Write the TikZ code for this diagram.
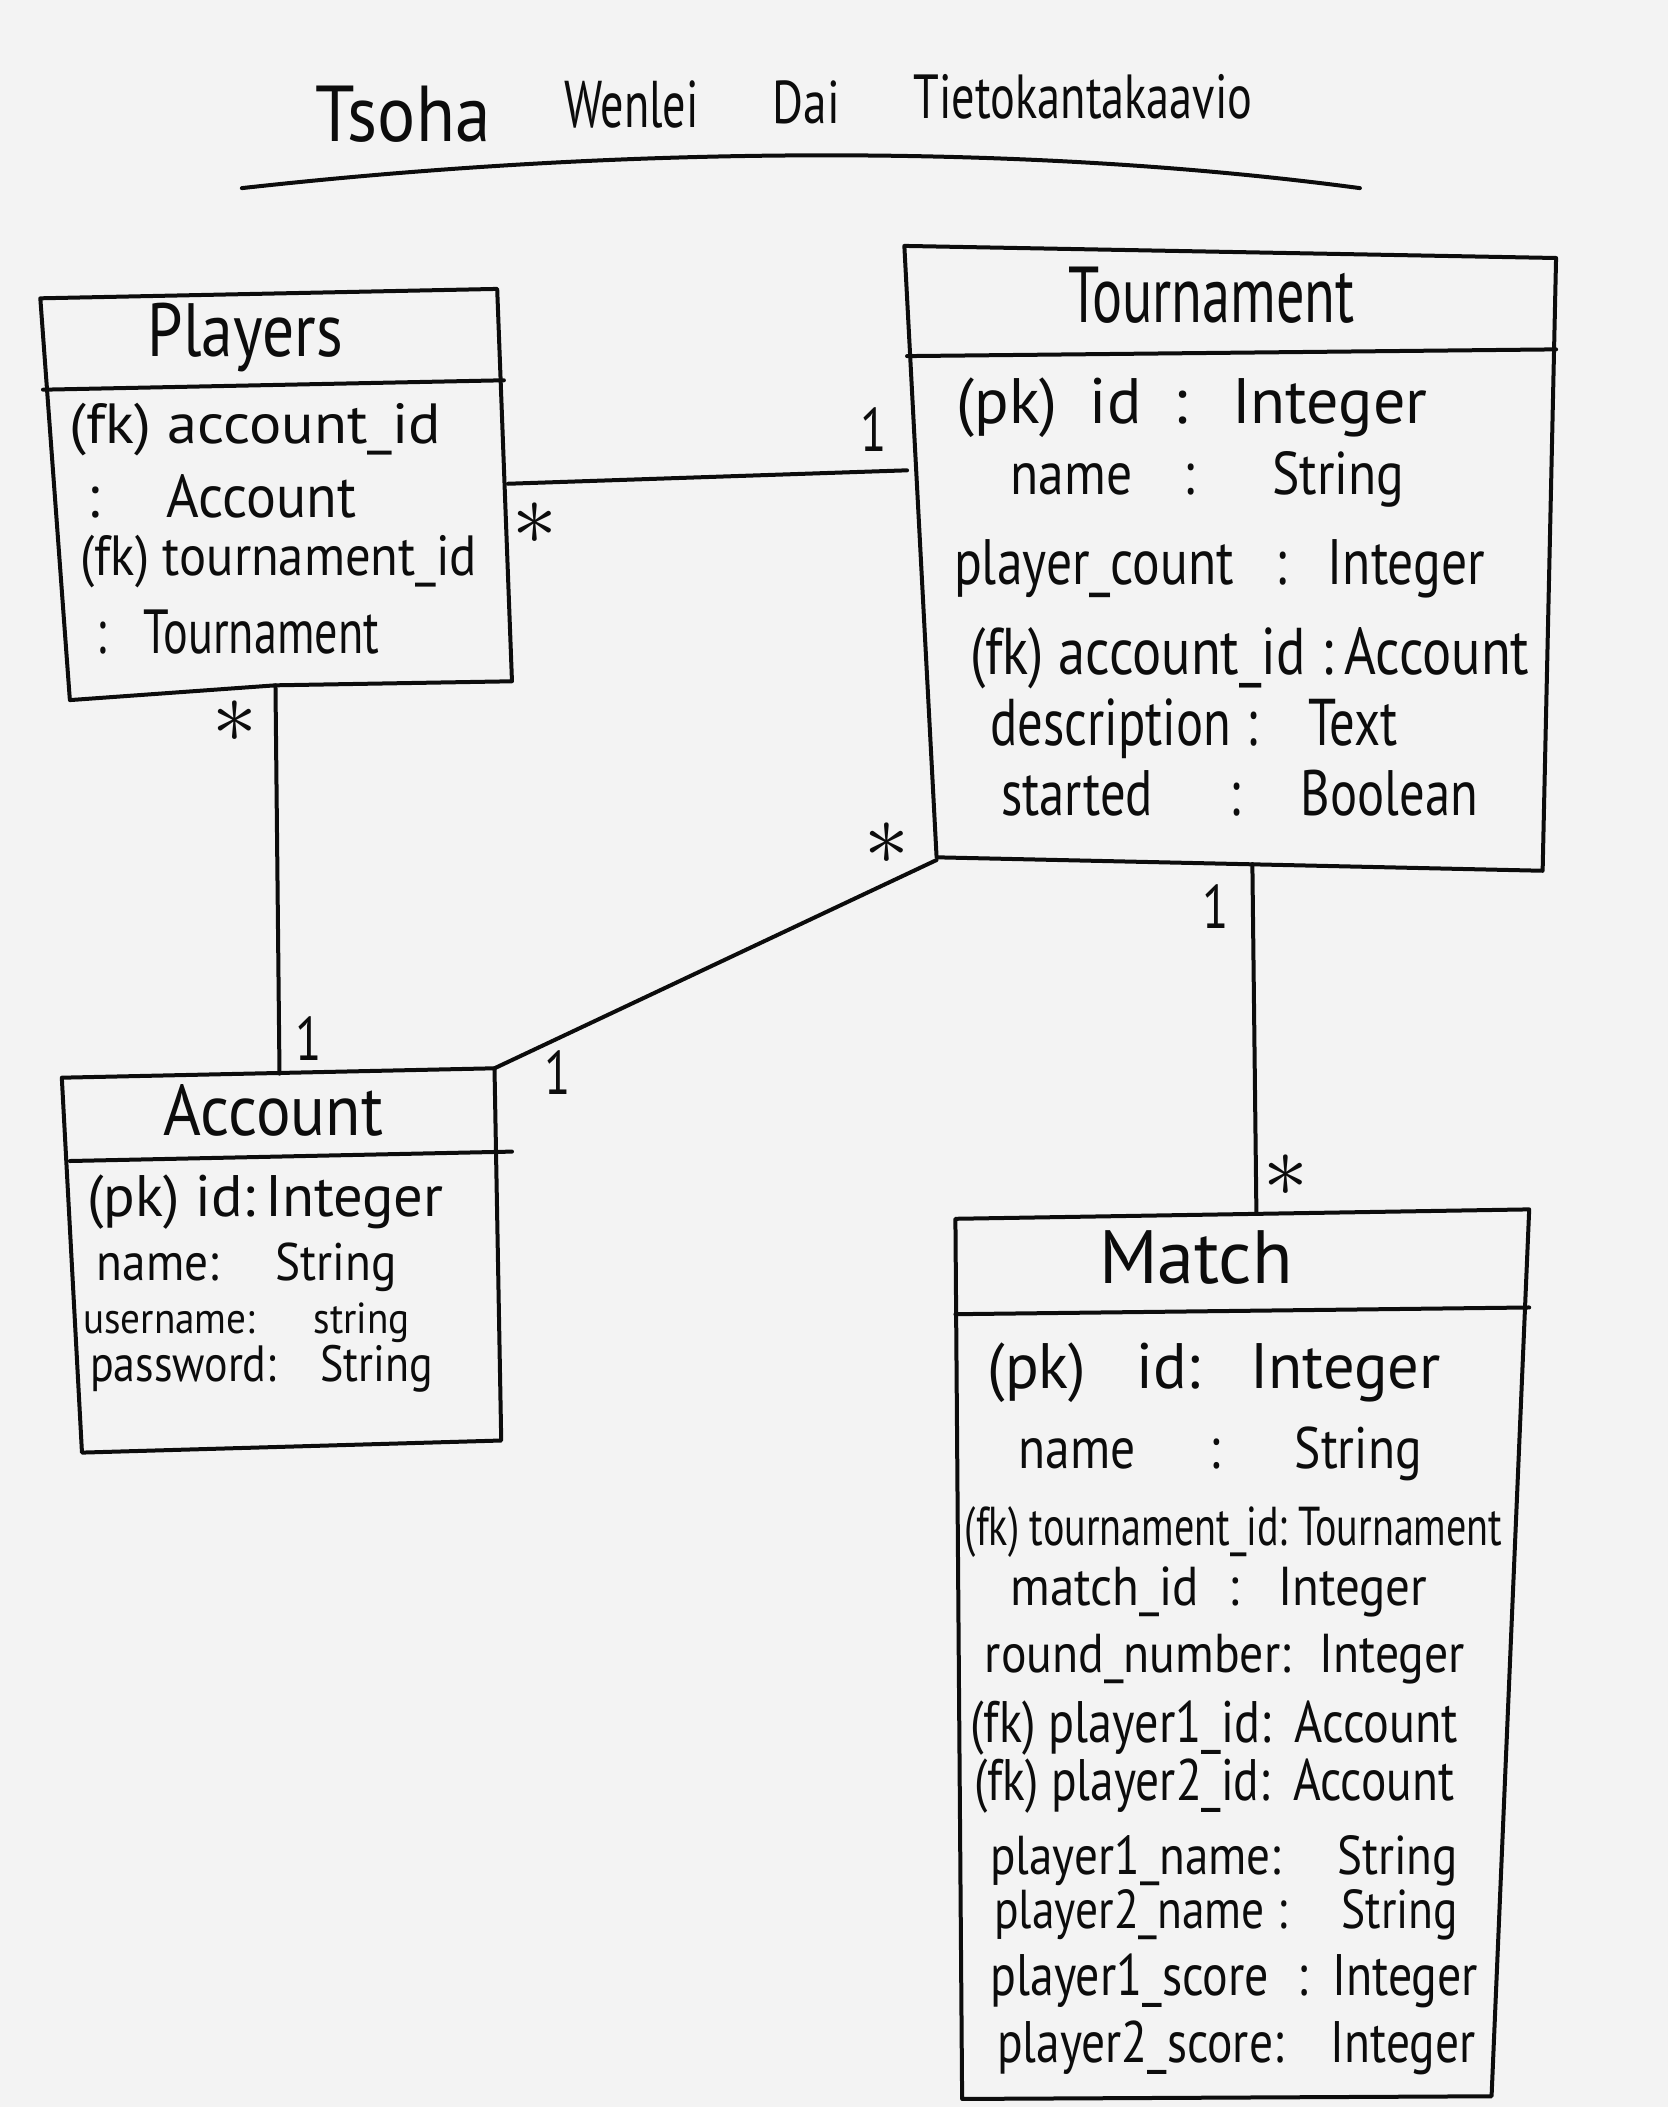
\documentclass[tikz,border=0pt]{standalone}
\usepackage{fontspec}
\setmainfont{PT Sans}
\usepackage{graphicx}
\newlength\ux
\setlength\ux{1.344pt}
% width, height above baseline (in reference units), text
\newcommand\hw[3]{\resizebox{#1\ux}{#2\ux}{\vphantom{(}#3}}
\definecolor{paper}{RGB}{243,243,243}
\definecolor{ink}{RGB}{12,12,12}
\begin{document}
\begin{tikzpicture}[x=1.344pt,y=-1.344pt,
  ink line/.style={draw=ink,line width=4pt,line join=round,line cap=round},
  txt/.style={inner sep=0pt,outer sep=0pt,anchor=base west,text=ink},
  mult/.style={inner sep=0pt,text=ink,font=\fontsize{44}{50}\selectfont}]
\useasboundingbox (0,0) rectangle (1241,1568);
\fill[paper] (0,0) rectangle (1241,1568);

% ---------- title ----------
\node[txt] (t1) at (235,105) {\hw{130}{42}{Tsoha}};
\node[txt] (t2) at (420,95) {\hw{100}{35}{Wenlei}};
\node[txt] (t3) at (575,92) {\hw{50}{32}{Dai}};
\node[txt] (t4) at (680,88) {\hw{252}{33}{Tietokantakaavio}};
\coordinate (ul-a) at (180,140);
\coordinate (ul-b) at (1012,140);
\draw[ink line] (ul-a) .. controls (450,110) and (750,105) .. (ul-b);

% ---------- Players ----------
\coordinate (P-tl) at (30,222);
\coordinate (P-tr) at (370,215);
\coordinate (P-br) at (381,507);
\coordinate (P-bm) at (205,510);
\coordinate (P-bl) at (52,521);
\coordinate (P-dl) at (32,290);
\coordinate (P-dr) at (375,283);
\draw[ink line] (P-tl) -- (P-tr) -- (P-br) -- (P-bm) -- (P-bl) -- cycle;
\draw[ink line] (P-dl) -- (P-dr);
\node[txt] (P-title) at (110,265) {\hw{145}{40}{Players}};
\node[txt] (P-a1) at (52,330) {\hw{276}{30}{(fk) account\_id}};
\node[txt] (P-a2) at (65,385) {\hw{200}{32}{:\hspace{1.2em}Account}};
\node[txt] (P-a3) at (60,428) {\hw{295}{30}{(fk) tournament\_id}};
\node[txt] (P-a4) at (72,486) {\hw{210}{33}{:\hspace{0.8em}Tournament}};

% ---------- Tournament ----------
\coordinate (T-tl) at (673,183);
\coordinate (T-tr) at (1158,192);
\coordinate (T-br) at (1148,648);
\coordinate (T-bl) at (697,638);
\coordinate (T-dl) at (675,265);
\coordinate (T-dr) at (1158,260);
\draw[ink line] (T-tl) -- (T-tr) -- (T-br) -- (T-bl) -- cycle;
\draw[ink line] (T-dl) -- (T-dr);
\node[txt] (T-title) at (795,240) {\hw{213}{42}{Tournament}};
\node[txt] (T-a1) at (712,315) {\hw{350}{34}{(pk)\hspace{0.5em}id\hspace{0.5em}:\hspace{0.7em}Integer}};
\node[txt] (T-a2) at (752,368) {\hw{293}{32}{name\hspace{1em}:\hspace{1.5em}String}};
\node[txt] (T-a3) at (710,435) {\hw{395}{34}{player\_count\hspace{0.8em}:\hspace{0.8em}Integer}};
\node[txt] (T-a4) at (722,502) {\hw{416}{35}{(fk) account\_id\hspace{0.3em}:\hspace{0.2em}Account}};
\node[txt] (T-a5) at (737,555) {\hw{303}{35}{description\hspace{0.3em}:\hspace{1em}Text}};
\node[txt] (T-a6) at (745,607) {\hw{355}{34}{started\hspace{1.5em}:\hspace{1.2em}Boolean}};

% ---------- Account ----------
\coordinate (A-tl) at (46,802);
\coordinate (A-tm) at (208,799);
\coordinate (A-tr) at (368,795);
\coordinate (A-br) at (373,1072);
\coordinate (A-bl) at (61,1081);
\coordinate (A-dl) at (52,864);
\coordinate (A-dr) at (381,857);
\draw[ink line] (A-tl) -- (A-tr) -- (A-br) -- (A-bl) -- cycle;
\draw[ink line] (A-dl) -- (A-dr);
\node[txt] (A-title) at (122,845) {\hw{163}{38}{Account}};
\node[txt] (A-a1) at (65,905) {\hw{265}{31}{(pk) id:\,Integer}};
\node[txt] (A-a2) at (72,953) {\hw{223}{28}{name:\hspace{1.2em}String}};
\node[txt] (A-a3) at (62,992) {\hw{243}{23}{username:\hspace{1.5em}string}};
\node[txt] (A-a4) at (67,1028) {\hw{255}{27}{password:\hspace{1em}String}};

% ---------- Match ----------
\coordinate (M-tl) at (711,907);
\coordinate (M-tm) at (935,903);
\coordinate (M-tr) at (1138,900);
\coordinate (M-br) at (1110,1560);
\coordinate (M-bl) at (716,1562);
\coordinate (M-dl) at (711,978);
\coordinate (M-dr) at (1138,973);
\draw[ink line] (M-tl) -- (M-tr) -- (M-br) -- (M-bl) -- cycle;
\draw[ink line] (M-dl) -- (M-dr);
\node[txt] (M-title) at (818,955) {\hw{144}{40}{Match}};
\node[txt] (M-a1) at (735,1033) {\hw{337}{34}{(pk)\hspace{0.8em}id:\hspace{0.8em}Integer}};
\node[txt] (M-a2) at (758,1093) {\hw{300}{31}{name\hspace{1.5em}:\hspace{1.5em}String}};
\node[txt] (M-a3) at (718,1150) {\hw{400}{29}{(fk) tournament\_id:\ Tournament}};
\node[txt] (M-a4) at (752,1195) {\hw{310}{29}{match\_id\hspace{0.6em}:\hspace{0.8em}Integer}};
\node[txt] (M-a5) at (733,1245) {\hw{357}{29}{round\_number:\hspace{0.6em}Integer}};
\node[txt] (M-a6) at (722,1297) {\hw{363}{31}{(fk) player1\_id:\hspace{0.5em}Account}};
\node[txt] (M-a7) at (725,1340) {\hw{357}{31}{(fk) player2\_id:\hspace{0.5em}Account}};
\node[txt] (M-a8) at (737,1395) {\hw{348}{29}{player1\_name:\hspace{1.2em}String}};
\node[txt] (M-a9) at (740,1435) {\hw{345}{29}{player2\_name :\hspace{1.2em}String}};
\node[txt] (M-a10) at (737,1485) {\hw{363}{31}{player1\_score\hspace{0.6em}:\hspace{0.5em}Integer}};
\node[txt] (M-a11) at (742,1535) {\hw{356}{31}{player2\_score:\hspace{1em}Integer}};

% ---------- connectors ----------
\coordinate (PT-a) at (378,360);
\coordinate (PT-b) at (675,350);
\draw[ink line] (PT-a) -- (PT-b);
\draw[ink line] (P-bm) -- (A-tm);
\coordinate (AT-b) at (697,640);
\draw[ink line] (A-tr) -- (AT-b);
\coordinate (TM-a) at (932,643);
\draw[ink line] (TM-a) -- (M-tm);

% ---------- multiplicities ----------
\node[mult] (m1) at (650,320) {\scalebox{1.1}[1.4]{1}};
\node[mult] (m2) at (398,390) {\scalebox{3.6}{$\ast$}};
\node[mult] (m3) at (175,537) {\scalebox{3.6}{$\ast$}};
\node[mult] (m4) at (230,773) {\scalebox{1.1}[1.4]{1}};
\node[mult] (m5) at (415,798) {\scalebox{1.1}[1.4]{1}};
\node[mult] (m6) at (660,628) {\scalebox{3.6}{$\ast$}};
\node[mult] (m7) at (905,675) {\scalebox{1.1}[1.4]{1}};
\node[mult] (m8) at (957,875) {\scalebox{3.6}{$\ast$}};
\end{tikzpicture}
\end{document}
